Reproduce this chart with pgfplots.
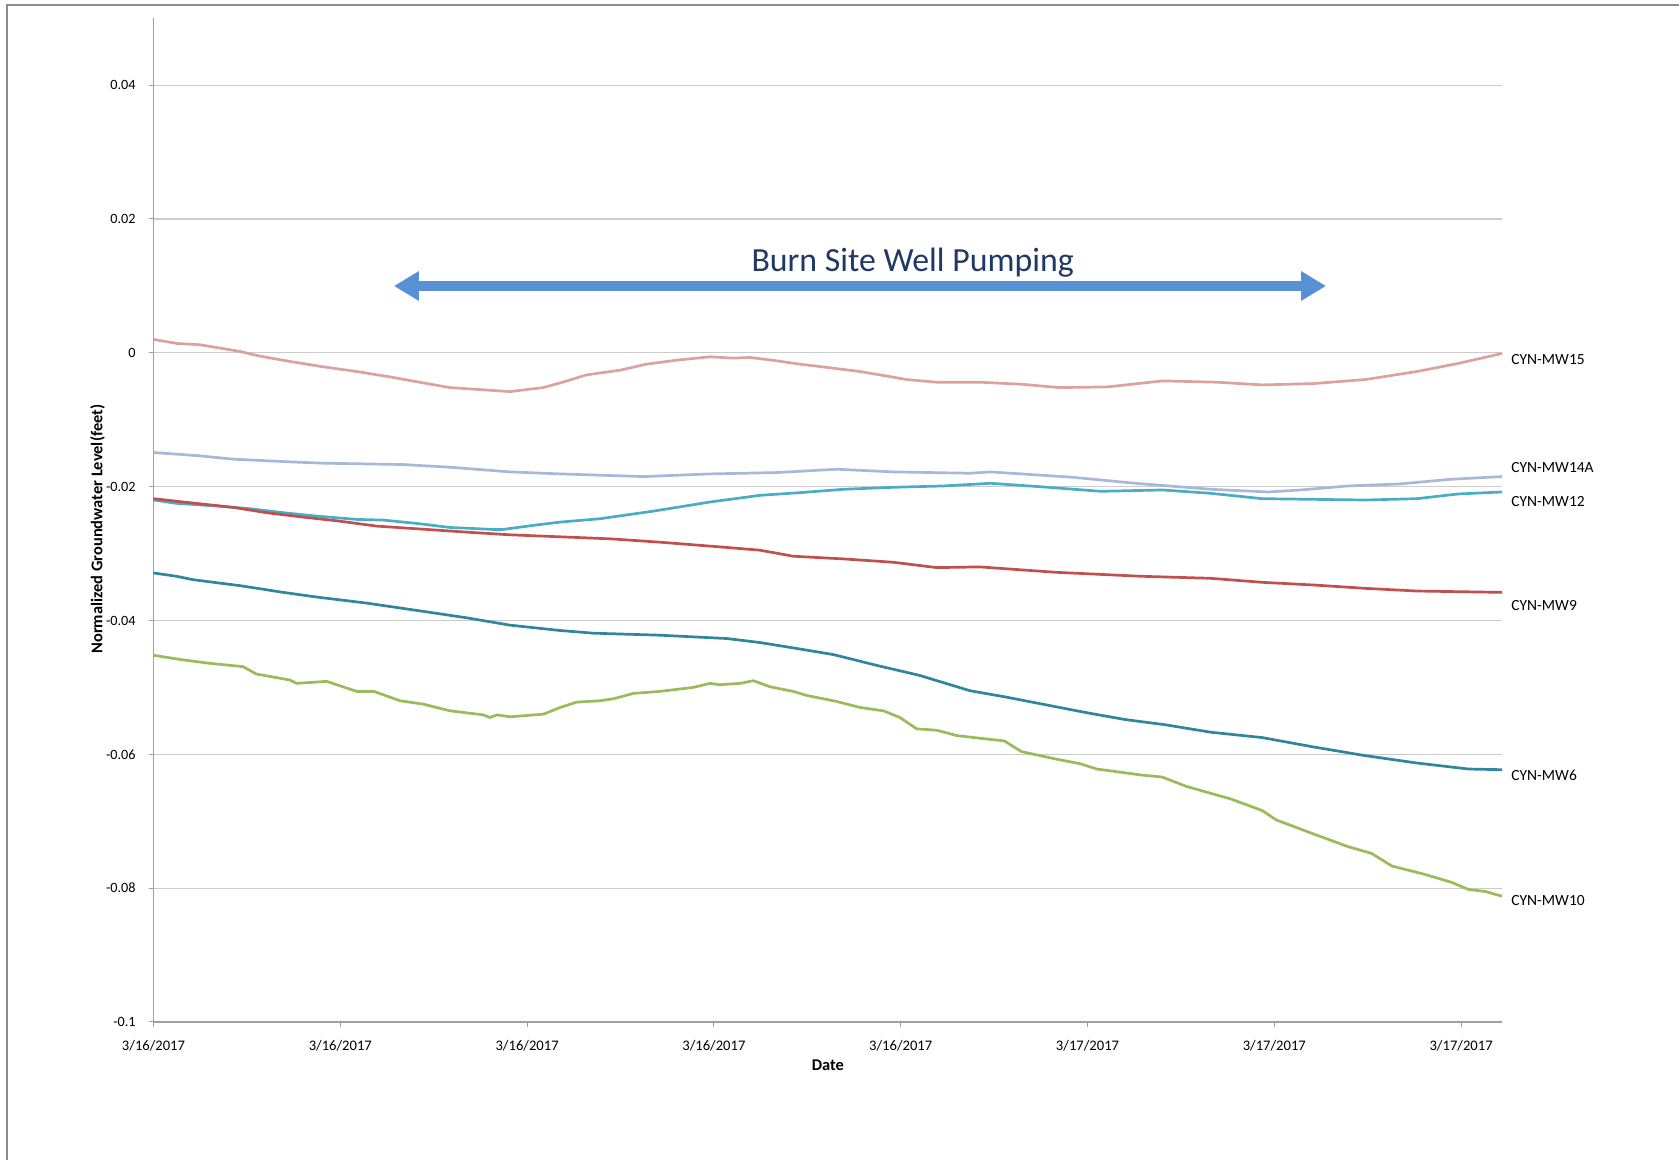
\documentclass[border=0pt]{standalone}
\usepackage{pgfplots}
\pgfplotsset{compat=1.18}
\usepackage{fontspec}
\setmainfont{Carlito}
\usetikzlibrary{arrows.meta}
\definecolor{cMWfifteen}{HTML}{DBA2A1}
\definecolor{cMWfourteen}{HTML}{A8B8D8}
\definecolor{cMWtwelve}{HTML}{4BACC6}
\definecolor{cMWnine}{HTML}{C0504D}
\definecolor{cMWsix}{HTML}{31859C}
\definecolor{cMWten}{HTML}{9BBB59}
\definecolor{arrowblue}{HTML}{5790D5}
\definecolor{titlenavy}{HTML}{1F3864}
\definecolor{gridgray}{HTML}{CCCCCC}
\definecolor{axisgray}{HTML}{A0A0A0}
\definecolor{framegray}{HTML}{8C8C8C}
\begin{document}
\begin{tikzpicture}
\useasboundingbox (0,0) rectangle (839.5pt,580pt);
\draw[framegray, line width=0.6pt] (3.5pt,-5pt) -- (3.5pt,577.5pt) -- (845pt,577.5pt);
\begin{axis}[
  at={(76.75pt,69.0pt)}, anchor=south west,
  scale only axis, width=674.25pt, height=501.9pt,
  xmin=0, xmax=7.219, ymin=-0.1, ymax=0.05,
  enlargelimits=false, clip=false,
  axis x line*=bottom, axis y line*=left,
  axis line style={axisgray, line width=0.6pt},
  tick align=outside, major tick length=2.5pt,
  tick style={axisgray, line width=0.5pt},
  xtick={0,1,2,3,4,5,6,7},
  xticklabels={3/16/2017,3/16/2017,3/16/2017,3/16/2017,3/16/2017,3/17/2017,3/17/2017,3/17/2017},
  ytick={-0.1,-0.08,-0.06,-0.04,-0.02,0,0.02,0.04},
  yticklabels={-0.1,-0.08,-0.06,-0.04,-0.02,0,0.02,0.04},
  ymajorgrids, grid style={gridgray, line width=0.6pt},
  xticklabel style={font=\fontsize{7.3}{8}\selectfont, anchor=center, inner sep=0pt, yshift=-9.5pt},
  yticklabel style={font=\fontsize{7.1}{8}\selectfont, anchor=east, inner sep=0pt, xshift=-6.25pt},
  xlabel={Date},
  xlabel style={font=\fontsize{8.2}{9}\selectfont\bfseries, at={(axis description cs:0.5,-0.0427)}, anchor=center},
  ylabel={Normalized Groundwater Level(feet)},
  ylabel style={font=\fontsize{8.2}{9}\selectfont\bfseries, at={(axis description cs:-0.0415,0.491)}, anchor=center},
  every axis plot/.append style={line width=1.35pt, line join=round, no markers},
]
% CYN-MW15
\addplot[cMWfifteen] coordinates {
(0,0.0020) (0.124,0.0014) (0.249,0.0012) (0.356,0.0007) (0.463,0.0002) (0.570,-0.0005) (0.731,-0.0013) (0.909,-0.0021) (1.088,-0.0028) (1.266,-0.0036) (1.444,-0.0045) (1.587,-0.0052) (1.694,-0.0054) (1.908,-0.0058) (2.087,-0.0052) (2.177,-0.0045) (2.319,-0.0033) (2.497,-0.0026) (2.640,-0.0017) (2.801,-0.0011) (2.979,-0.0006) (3.104,-0.0008) (3.193,-0.0007) (3.336,-0.0012) (3.461,-0.0017) (3.639,-0.0023) (3.782,-0.0028) (3.889,-0.0033) (4.032,-0.0040) (4.193,-0.0044) (4.425,-0.0044) (4.647,-0.0047) (4.850,-0.0052) (5.107,-0.0051) (5.402,-0.0042) (5.696,-0.0044) (5.935,-0.0048) (6.211,-0.0046) (6.487,-0.0040) (6.763,-0.0028) (6.983,-0.0016) (7.219,-0.0001)
};
% CYN-MW14A
\addplot[cMWfourteen] coordinates {
(0,-0.0149) (0.249,-0.0154) (0.427,-0.0159) (0.731,-0.0163) (0.909,-0.0165) (1.337,-0.0167) (1.587,-0.0171) (1.908,-0.0178) (2.177,-0.0181) (2.622,-0.0185) (2.979,-0.0181) (3.336,-0.0179) (3.657,-0.0174) (3.96,-0.0178) (4.371,-0.0180) (4.48,-0.0178) (4.647,-0.0181) (4.92,-0.0186) (5.255,-0.0195) (5.66,-0.0204) (5.97,-0.0208) (6.14,-0.0205) (6.395,-0.0199) (6.67,-0.0196) (6.946,-0.0189) (7.219,-0.0185)
};
% CYN-MW12
\addplot[cMWtwelve] coordinates {
(0,-0.0220) (0.124,-0.0225) (0.338,-0.0229) (0.516,-0.0233) (0.695,-0.0239) (0.873,-0.0244) (1.088,-0.0249) (1.23,-0.0250) (1.41,-0.0255) (1.587,-0.0261) (1.82,-0.0264) (1.87,-0.0264) (2.03,-0.0258) (2.177,-0.0253) (2.39,-0.0248) (2.69,-0.0236) (2.979,-0.0223) (3.247,-0.0213) (3.461,-0.0209) (3.693,-0.0204) (3.96,-0.0201) (4.229,-0.0199) (4.48,-0.0195) (4.74,-0.0200) (5.07,-0.0207) (5.402,-0.0205) (5.66,-0.0210) (5.935,-0.0218) (6.211,-0.0219) (6.487,-0.0220) (6.763,-0.0218) (6.983,-0.0211) (7.219,-0.0208)
};
% CYN-MW9
\addplot[cMWnine] coordinates {
(0,-0.0218) (0.16,-0.0223) (0.427,-0.0231) (0.606,-0.0239) (0.784,-0.0245) (0.98,-0.0251) (1.195,-0.0259) (1.41,-0.0263) (1.676,-0.0268) (1.908,-0.0272) (2.177,-0.0275) (2.444,-0.0278) (2.71,-0.0283) (3.03,-0.0290) (3.247,-0.0295) (3.425,-0.0304) (3.693,-0.0308) (3.96,-0.0313) (4.193,-0.0321) (4.425,-0.0320) (4.83,-0.0328) (5.29,-0.0334) (5.66,-0.0337) (5.935,-0.0343) (6.21,-0.0347) (6.487,-0.0352) (6.763,-0.0356) (7.219,-0.0358)
};
% CYN-MW6
\addplot[cMWsix] coordinates {
(0,-0.0329) (0.124,-0.0334) (0.21,-0.0339) (0.463,-0.0348) (0.695,-0.0358) (0.873,-0.0365) (1.14,-0.0374) (1.41,-0.0385) (1.676,-0.0396) (1.908,-0.0407) (2.177,-0.0415) (2.355,-0.0419) (2.71,-0.0422) (3.07,-0.0427) (3.247,-0.0433) (3.425,-0.0441) (3.64,-0.0451) (3.87,-0.0467) (4.1,-0.0482) (4.371,-0.0505) (4.555,-0.0514) (4.74,-0.0524) (4.98,-0.0537) (5.2,-0.0548) (5.42,-0.0556) (5.66,-0.0567) (5.935,-0.0575) (6.21,-0.0589) (6.487,-0.0602) (6.763,-0.0613) (7.04,-0.0622) (7.219,-0.0623)
};
% CYN-MW10
\addplot[cMWten] coordinates {
(0,-0.0452) (0.16,-0.0459) (0.30,-0.0464) (0.48,-0.0469) (0.55,-0.0480) (0.73,-0.0489) (0.767,-0.0494) (0.927,-0.0491) (1.088,-0.0506) (1.18,-0.0506) (1.32,-0.0520) (1.444,-0.0525) (1.587,-0.0535) (1.765,-0.0541) (1.80,-0.0545) (1.84,-0.0541) (1.908,-0.0544) (2.087,-0.0540) (2.177,-0.0530) (2.266,-0.0522) (2.39,-0.0520) (2.462,-0.0517) (2.569,-0.0509) (2.71,-0.0506) (2.89,-0.0500) (2.979,-0.0494) (3.03,-0.0496) (3.14,-0.0494) (3.211,-0.0490) (3.3,-0.0499) (3.425,-0.0506) (3.496,-0.0512) (3.657,-0.0521) (3.782,-0.0530) (3.907,-0.0535) (3.996,-0.0545) (4.086,-0.0562) (4.193,-0.0564) (4.3,-0.0572) (4.425,-0.0576) (4.555,-0.0580) (4.647,-0.0596) (4.83,-0.0607) (4.96,-0.0614) (5.05,-0.0622) (5.29,-0.0631) (5.40,-0.0634) (5.53,-0.0648) (5.77,-0.0667) (5.935,-0.0684) (6.01,-0.0698) (6.21,-0.0719) (6.395,-0.0738) (6.52,-0.0748) (6.63,-0.0767) (6.8,-0.0779) (6.946,-0.0791) (7.04,-0.0802) (7.13,-0.0805) (7.219,-0.0812)
};
% series labels
\begin{scope}[every node/.style={anchor=west, inner sep=0pt, font=\fontsize{7.75}{9}\selectfont}]
\node at (axis cs:7.267,-0.0010) {CYN-MW15};
\node at (axis cs:7.267,-0.0172) {CYN-MW14A};
\node at (axis cs:7.267,-0.0223) {CYN-MW12};
\node at (axis cs:7.267,-0.0377) {CYN-MW9};
\node at (axis cs:7.267,-0.0631) {CYN-MW6};
\node at (axis cs:7.267,-0.0819) {CYN-MW10};
\end{scope}
% pumping annotation
\draw[arrowblue, line width=5.25pt, {Triangle[width=14pt,length=12.5pt]}-{Triangle[width=14pt,length=12.5pt]}] (axis cs:1.287,0.00998) -- (axis cs:6.277,0.00998);
\node[anchor=base, inner sep=0pt, text=titlenavy, font=\fontsize{16.9}{20}\selectfont] at (axis cs:4.064,0.0121) {Burn Site Well Pumping};
\end{axis}
\end{tikzpicture}
\end{document}
